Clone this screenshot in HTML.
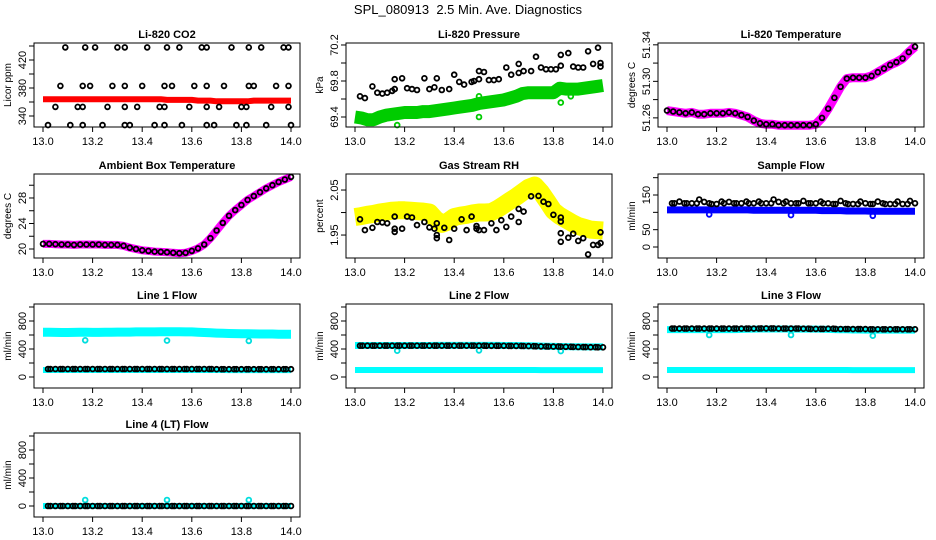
<!DOCTYPE html>
<html><head><meta charset="utf-8">
<style>
html,body{margin:0;padding:0;background:#fff;}
svg{display:block;font-family:"Liberation Sans",sans-serif;}
</style></head>
<body>
<svg id="chart" width="936" height="540" viewBox="0 0 936 540" xmlns="http://www.w3.org/2000/svg">
<rect width="936" height="540" fill="#fff"/>
<text x="468" y="14" font-size="13" text-anchor="middle" style="white-space:pre">SPL_080913  2.5 Min. Ave. Diagnostics</text>
</svg>
<script>
// ---- shared time axes ----
const tDense = [13.000,13.025,13.050,13.075,13.100,13.125,13.150,13.175,13.200,13.225,13.250,13.275,13.300,13.325,13.350,13.375,13.400,13.425,13.450,13.475,13.500,13.525,13.550,13.575,13.600,13.625,13.650,13.675,13.700,13.725,13.750,13.775,13.800,13.825,13.850,13.875,13.900,13.925,13.950,13.975,14.000];
const tSparse = [13.02,13.03,13.05,13.07,13.08,13.10,13.12,13.13,13.15,13.17,13.18,13.20,13.22,13.23,13.25,13.27,13.28,13.30,13.32,13.33,13.35,13.37,13.38,13.40,13.42,13.43,13.45,13.47,13.48,13.50,13.52,13.53,13.55,13.57,13.58,13.60,13.62,13.63,13.65,13.67,13.68,13.70,13.72,13.73,13.75,13.77,13.78,13.80,13.82,13.83,13.85,13.87,13.88,13.90,13.92,13.93,13.95,13.97,13.98,14.00];
const xTicks = [13.0,13.2,13.4,13.6,13.8,14.0];
const xTickLabels = ["13.0","13.2","13.4","13.6","13.8","14.0"];
const outX = [13.17,13.50,13.83];

// ---- Li-820 CO2 ----
const co2Band = [364,364,364,364,364,364,364,364,364,364,364,364,364,364,364,364,364,364,364,364,363,363,363,363,363,362,362,362,361,361,361,361,361,361,362,362,362,362,362,362,362];
const co2BlackX = [13.09,13.17,13.21,13.30,13.33,13.42,13.50,13.55,13.64,13.66,13.76,13.83,13.88,13.97,13.99, 13.07,13.16,13.19,13.28,13.33,13.40,13.49,13.52,13.61,13.66,13.73,13.83,13.85,13.94,13.99, 13.05,13.14,13.16,13.26,13.33,13.38,13.47,13.49,13.59,13.66,13.71,13.80,13.82,13.92,13.99, 13.02,13.11,13.16,13.24,13.33,13.35,13.45,13.49,13.56,13.66,13.69,13.78,13.82,13.90,14.00];
const co2BlackY = [438,438,438,438,438,438,438,438,438,438,438,438,438,438,438, 383,383,383,383,383,383,383,383,383,383,383,383,383,383,383, 353,353,353,353,353,353,353,353,353,353,353,353,353,353,353, 327,327,327,327,327,327,327,327,327,327,327,327,327,327,327];
const co2Ticks = [340,360,380,400,420,440];
const co2Labels = ["340","","380","","420",""];

// ---- Li-820 Pressure ----
const presBand = [69.40,69.39,69.37,69.37,69.40,69.42,69.43,69.44,69.45,69.45,69.45,69.46,69.46,69.47,69.48,69.49,69.50,69.51,69.52,69.53,69.55,69.56,69.57,69.58,69.59,69.61,69.63,69.66,69.67,69.67,69.67,69.67,69.67,69.72,69.71,69.71,69.71,69.72,69.73,69.74,69.75];
const presBlackX = [13.02,13.04,13.07,13.09,13.11,13.13,13.15,13.16,13.16,13.19,13.21,13.23,13.25,13.28,13.30,13.32,13.33,13.35,13.38,13.40,13.42,13.44,13.47,13.48,13.50,13.50,13.52,13.54,13.56,13.58,13.61,13.63,13.66,13.66,13.68,13.71,13.73,13.75,13.77,13.79,13.81,13.83,13.83,13.86,13.88,13.90,13.92,13.94,13.96,13.98,13.99,13.99];
const presBlackY = [69.63,69.61,69.74,69.67,69.66,69.67,69.69,69.71,69.82,69.83,69.72,69.71,69.70,69.83,69.71,69.73,69.83,69.70,69.71,69.87,69.79,69.76,69.79,69.80,69.91,69.82,69.90,69.81,69.81,69.82,69.95,69.87,69.99,69.89,69.91,69.91,70.07,69.95,69.93,69.93,69.93,70.09,69.97,70.11,69.96,69.95,69.95,70.13,69.99,70.17,70.00,69.96];
const presOutX = [13.17,13.50,13.50,13.83,13.87];
const presOutY = [69.31,69.40,69.63,69.56,69.63];
const presTicks = [69.4,69.6,69.8,70.0,70.2];
const presLabels = ["69.4","","69.8","","70.2"];

// ---- Li-820 Temperature ----
const tempBand = [51.268,51.267,51.266,51.265,51.266,51.264,51.264,51.265,51.265,51.265,51.266,51.265,51.263,51.261,51.257,51.254,51.253,51.253,51.252,51.252,51.252,51.252,51.252,51.252,51.253,51.260,51.270,51.282,51.294,51.303,51.304,51.304,51.304,51.306,51.310,51.314,51.318,51.321,51.325,51.332,51.338];
const tempTicks = [51.26,51.28,51.30,51.32,51.34];
const tempLabels = ["51.26","","51.30","","51.34"];

// ---- Ambient Box Temperature ----
const ambBand = [20.8,20.8,20.75,20.7,20.7,20.65,20.7,20.7,20.7,20.7,20.65,20.65,20.65,20.5,20.2,20.0,19.8,19.7,19.6,19.55,19.5,19.4,19.35,19.4,19.7,20.1,20.7,21.7,22.9,24.1,25.2,26.1,26.9,27.7,28.3,28.9,29.5,30.0,30.5,30.9,31.3];
const ambTicks = [20,22,24,26,28,30];
const ambLabels = ["20","","24","","28",""];

// ---- Gas Stream RH ----
const rhBand = [1.990,1.992,1.995,1.997,2.000,2.002,2.004,2.005,2.005,2.004,2.003,2.002,2.000,1.985,1.975,1.980,1.990,1.993,1.995,1.998,2.000,2.000,2.001,2.008,2.017,2.026,2.035,2.045,2.055,2.060,2.045,2.025,2.004,1.993,1.985,1.977,1.970,1.966,1.962,1.961,1.960];
const rhBlackX = [13.02,13.04,13.07,13.09,13.11,13.13,13.16,13.16,13.16,13.19,13.21,13.23,13.25,13.28,13.30,13.32,13.33,13.33,13.33,13.36,13.38,13.40,13.43,13.45,13.47,13.49,13.49,13.50,13.52,13.55,13.57,13.59,13.61,13.63,13.66,13.66,13.68,13.71,13.74,13.76,13.78,13.80,13.83,13.83,13.83,13.83,13.86,13.88,13.90,13.92,13.94,13.96,13.98,13.99,13.99];
const rhBlackY = [1.985,1.961,1.966,1.979,1.978,1.976,1.991,1.964,1.957,1.964,1.991,1.989,1.972,1.979,1.967,1.964,1.976,1.950,1.943,1.966,1.939,1.964,1.985,1.961,1.991,1.970,1.964,1.961,1.961,1.976,1.961,1.983,1.968,1.991,1.979,2.008,2.002,2.036,2.037,2.024,2.019,1.995,1.989,1.980,1.954,1.935,1.944,1.953,1.937,1.943,1.907,1.928,1.928,1.956,1.932];
const rhTicks = [1.95,2.00,2.05];
const rhLabels = ["1.95","","2.05"];

// ---- Sample Flow ----
const sampBand = [107,107,107,107,107,107,107,107,107,107,107,107,107,107,106,106,106,106,106,106,106,106,106,106,106,105,105,105,105,104,104,104,104,103,103,103,103,103,103,103,103];
const sampBlack = [126,126,131,126,126,126,126,137,130,126,124,124,131,126,130,126,126,126,131,126,126,131,126,126,126,137,130,126,131,126,126,126,133,126,126,126,131,126,126,124,124,133,126,124,124,124,131,126,124,124,131,126,124,124,124,131,124,124,133,126];
const sampOut = [94,92,90];
const sampTicks = [0,50,100,150,200];
const sampLabels = ["0","50","","150",""];

// ---- Line flows ----
const flowTicks = [0,200,400,600,800,1000];
const flowLabels = ["0","","400","","800",""];
const l1Upper = [640,640,638,636,636,638,640,640,638,638,640,640,642,642,642,644,645,645,645,646,646,646,646,645,644,640,636,632,628,625,622,620,618,618,616,615,614,614,612,612,612];
const l1Lower = [100,100,100,100,100,100,100,100,100,100,100,100,100,100,100,100,100,100,100,100,100,100,100,100,100,100,100,100,100,100,98,98,98,98,98,98,98,98,98,98,98];
const l1Black = [115,115,115,115,115,115,115,115,115,115,115,115,115,115,115,115,115,115,115,115,115,115,115,115,115,115,115,115,115,115,115,115,115,115,115,115,115,115,115,115,115,112,112,112,112,112,112,112,112,112,112,112,112,112,112,112,112,112,112,112];
const l1Out = [524,520,516];
const l2Upper = [450,450,450,450,450,450,450,450,450,450,450,450,450,452,452,452,452,452,452,452,452,452,452,452,450,450,450,448,446,444,442,440,438,436,434,432,432,430,430,430,430];
const l2Lower = [100,100,100,100,100,100,100,100,100,100,100,100,100,100,100,100,100,100,100,100,100,100,100,100,100,100,100,100,100,100,98,98,98,98,98,98,98,98,98,98,98];
const l2Black = [447,447,447,447,447,447,447,447,447,447,447,447,447,447,447,447,447,447,447,447,447,447,447,447,447,447,447,447,447,447,447,446,446,446,446,446,445,445,445,445,443,441,440,439,438,437,436,435,434,433,432,431,430,429,428,427,426,426,425,425];
const l2Out = [376,380,370];
const l3Upper = [678,678,678,678,678,678,678,678,678,678,678,678,680,682,684,686,686,686,686,686,684,684,684,684,684,682,680,678,676,674,672,672,670,670,670,670,670,670,670,670,670];
const l3Lower = [100,100,100,100,100,100,100,100,100,100,100,100,100,100,100,100,100,100,100,100,100,100,100,100,100,100,100,100,100,100,98,98,98,98,98,98,98,98,98,98,98];
const l3Black = [692,692,692,692,692,692,692,692,692,692,692,692,692,692,692,692,692,692,692,692,692,692,694,694,694,694,692,692,692,692,692,692,690,690,688,688,688,688,690,690,688,686,686,686,684,684,684,684,682,682,682,682,682,682,682,682,682,682,682,682];
const l3Out = [600,600,590];
const l4Band = [0,0,0,0,0,0,0,0,0,0,0,0,0,0,0,0,0,0,0,0,0,0,0,0,0,0,0,0,0,0,0,0,0,0,0,0,0,0,0,0,0];
const l4Black = [0,0,0,0,0,0,0,0,0,0,0,0,0,0,0,0,0,0,0,0,0,0,0,0,0,0,0,0,0,0,0,0,0,0,0,0,0,0,0,0,0,0,0,0,0,0,0,0,0,0,0,0,0,0,0,0,0,0,0,0];
const l4Out = [86,86,86];

const NS = "http://www.w3.org/2000/svg";
const svg = document.getElementById('chart');
const colLeft = [34,346,658];
const rowTop = [43,174,304,433];
const W = 266, H = 84;

function mk(tag, attrs, parent){
  const e = document.createElementNS(NS, tag);
  for (const k in attrs) e.setAttribute(k, attrs[k]);
  (parent||svg).appendChild(e);
  return e;
}

function panel(o){
  const L = colLeft[o.col], T = rowTop[o.row];
  const g = mk('g', {});
  
  
  const xs = v => L + 9 + (v - 13.0) * 248;
  const ys = v => T + H - (v - o.ymin) / (o.ymax - o.ymin) * H;
  const tt = mk('text', {x: L + W/2, y: T - 5, 'font-size': 11, 'font-weight': 'bold', 'text-anchor': 'middle'}, g);
  tt.textContent = o.title;
  
  
  const sg = mk('g', {}, g);
  
  
  (o.bands||[]).forEach(b => {
    const pts = b.vals.map((v,i) => xs(tDense[i]).toFixed(1) + ',' + ys(v).toFixed(1)).join(' ');
    const pl = mk('polyline', {points: pts, fill: 'none', stroke: b.color, 'stroke-width': b.w, 'stroke-linejoin': 'round', 'stroke-linecap': 'butt'}, sg);
    
    
  });
  (o.pts||[]).forEach(p => {
    const n = Math.min(p.x.length, p.y.length);
    for (let i = 0; i < n; i++){
      const c = mk('circle', {cx: xs(p.x[i]).toFixed(1), cy: ys(p.y[i]).toFixed(1), r: 2.4, fill: 'none', stroke: p.color, 'stroke-width': 1.8}, sg);
      
      
    }
  });
  const bx = mk('rect', {x: L, y: T, width: W, height: H, fill: 'none', stroke: '#000', 'stroke-width': 1}, g);
  
  
  const xa = mk('g', {}, g);
  
  
  mk('line', {x1: xs(xTicks[0]), x2: xs(xTicks[xTicks.length-1]), y1: T+H, y2: T+H, stroke: '#000'}, xa);
  xTicks.forEach((v,i) => {
    mk('line', {x1: xs(v), x2: xs(v), y1: T+H, y2: T+H+5, stroke: '#000'}, xa);
    const t = mk('text', {x: xs(v), y: T+H+18, 'font-size': 11, 'text-anchor': 'middle'}, xa);
    t.textContent = xTickLabels[i];
  });
  const ya = mk('g', {}, g);
  
  
  mk('line', {x1: L, x2: L, y1: ys(o.ticks[0]), y2: ys(o.ticks[o.ticks.length-1]), stroke: '#000'}, ya);
  o.ticks.forEach((v,i) => {
    const y = ys(v);
    mk('line', {x1: L-5, x2: L, y1: y, y2: y, stroke: '#000'}, ya);
    if (o.labels[i]) {
      const t = mk('text', {x: L-8, y: y, 'font-size': 11, 'text-anchor': 'middle', transform: 'rotate(-90 ' + (L-8) + ' ' + y + ')'}, ya);
      t.textContent = o.labels[i];
    }
  });
  const yt = mk('text', {x: L-23, y: T+H/2, 'font-size': 10, 'text-anchor': 'middle', transform: 'rotate(-90 ' + (L-23) + ' ' + (T+H/2) + ')'}, g);
  yt.textContent = o.ylab;
  
  
}

panel({name:'co2', title:'Li-820 CO2', ylab:'Licor ppm', col:0, row:0, ymin:324.3, ymax:444.3, ticks:co2Ticks, labels:co2Labels,
  bands:[{vals:co2Band, color:'#ff0000', w:6}], pts:[{x:co2BlackX, y:co2BlackY, color:'#000'}]});
panel({name:'pressure', title:'Li-820 Pressure', ylab:'kPa', col:1, row:0, ymin:69.289, ymax:70.222, ticks:presTicks, labels:presLabels,
  bands:[{vals:presBand, color:'#00cc00', w:13}], pts:[{x:presOutX, y:presOutY, color:'#00cc00'},{x:presBlackX, y:presBlackY, color:'#000'}]});
panel({name:'temperature', title:'Li-820 Temperature', ylab:'degrees C', col:2, row:0, ymin:51.250, ymax:51.342, ticks:tempTicks, labels:tempLabels,
  bands:[{vals:tempBand, color:'#ff00ff', w:9}], pts:[{x:tDense, y:tempBand, color:'#000'}]});
panel({name:'ambient', title:'Ambient Box Temperature', ylab:'degrees C', col:0, row:1, ymin:18.59, ymax:31.76, ticks:ambTicks, labels:ambLabels,
  bands:[{vals:ambBand, color:'#ff00ff', w:8}], pts:[{x:tDense, y:ambBand, color:'#000'}]});
panel({name:'rh', title:'Gas Stream RH', ylab:'percent', col:1, row:1, ymin:1.899, ymax:2.0856, ticks:rhTicks, labels:rhLabels,
  bands:[{vals:rhBand, color:'#ffff00', w:18}], pts:[{x:rhBlackX, y:rhBlackY, color:'#000'}]});
panel({name:'sample-flow', title:'Sample Flow', ylab:'ml/min', col:2, row:1, ymin:-31.7, ymax:210.6, ticks:sampTicks, labels:sampLabels,
  bands:[{vals:sampBand, color:'#0000ff', w:7}], pts:[{x:outX, y:sampOut, color:'#0000ff'},{x:tSparse, y:sampBlack, color:'#000'}]});
panel({name:'line1-flow', title:'Line 1 Flow', ylab:'ml/min', col:0, row:2, ymin:-157, ymax:1043, ticks:flowTicks, labels:flowLabels,
  bands:[{vals:l1Upper, color:'#00ffff', w:9},{vals:l1Lower, color:'#00ffff', w:6}], pts:[{x:outX, y:l1Out, color:'#00dddd'},{x:tSparse, y:l1Black, color:'#000'}]});
panel({name:'line2-flow', title:'Line 2 Flow', ylab:'ml/min', col:1, row:2, ymin:-157, ymax:1043, ticks:flowTicks, labels:flowLabels,
  bands:[{vals:l2Upper, color:'#00ffff', w:7},{vals:l2Lower, color:'#00ffff', w:6}], pts:[{x:outX, y:l2Out, color:'#00dddd'},{x:tSparse, y:l2Black, color:'#000'}]});
panel({name:'line3-flow', title:'Line 3 Flow', ylab:'ml/min', col:2, row:2, ymin:-157, ymax:1043, ticks:flowTicks, labels:flowLabels,
  bands:[{vals:l3Upper, color:'#00ffff', w:7},{vals:l3Lower, color:'#00ffff', w:6}], pts:[{x:outX, y:l3Out, color:'#00dddd'},{x:tSparse, y:l3Black, color:'#000'}]});
panel({name:'line4-flow', title:'Line 4 (LT) Flow', ylab:'ml/min', col:0, row:3, ymin:-157, ymax:1043, ticks:flowTicks, labels:flowLabels,
  bands:[{vals:l4Band, color:'#00ffff', w:6}], pts:[{x:outX, y:l4Out, color:'#00dddd'},{x:tSparse, y:l4Black, color:'#000'}]});
</script>
</body></html>
